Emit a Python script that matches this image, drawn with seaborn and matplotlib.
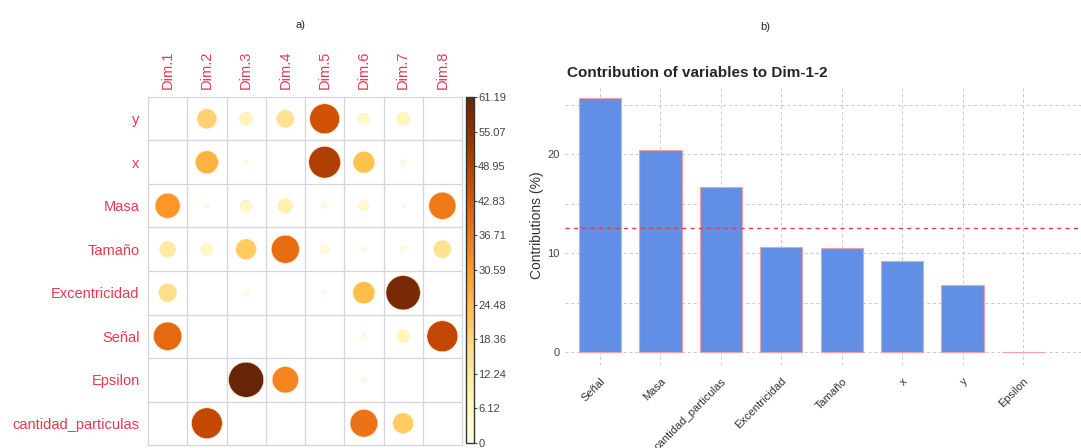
import numpy as np
import pandas as pd
import matplotlib
matplotlib.use("Agg")
import matplotlib.pyplot as plt
import matplotlib.colors as mcolors
import seaborn as sns

# ---- contributions of each variable to every PCA dimension (%) ----
dims = ["Dim.1", "Dim.2", "Dim.3", "Dim.4", "Dim.5", "Dim.6", "Dim.7", "Dim.8"]
variables = ["y", "x", "Masa", "Tamaño", "Excentricidad", "Señal", "Epsilon",
             "cantidad_particulas"]
contrib_y = [0.0, 19.2, 8.5, 15.5, 44.5, 6.0, 8.0, 0.0]
contrib_x = [0.0, 25.9, 1.0, 0.0, 50.0, 23.0, 1.2, 0.0]
contrib_masa = [31.1, 1.0, 6.5, 10.5, 1.2, 5.0, 0.3, 36.5]
contrib_tamano = [12.4, 7.0, 21.0, 39.0, 3.5, 1.0, 1.2, 15.5]
contrib_excentricidad = [16.4, 0.0, 1.2, 0.0, 0.6, 24.0, 58.5, 0.0]
contrib_senal = [39.8, 0.0, 0.0, 0.0, 0.0, 1.2, 8.0, 47.5]
contrib_epsilon = [0.0, 0.0, 61.19, 34.5, 0.0, 1.0, 0.0, 0.0]
contrib_cantidad = [0.0, 47.0, 0.0, 0.0, 0.0, 38.0, 21.0, 0.0]

colorbar_ticks = [0, 6.12, 12.24, 18.36, 24.48, 30.59, 36.71, 42.83, 48.95, 55.07, 61.19]

# ---- contributions to Dim-1-2 (%) ----
bar_vars = ["Señal", "Masa", "cantidad_particulas", "Excentricidad", "Tamaño",
            "x", "y", "Epsilon"]
bar_values = [25.7, 20.4, 16.7, 10.6, 10.5, 9.2, 6.8, 0.05]
expected_avg = 100 / 8

sns.set_style("white")
plt.rcParams["font.family"] = ["Liberation Sans", "DejaVu Sans"]

fig = plt.figure(figsize=(10.81, 4.48), dpi=100)
W, H = 1081, 448


def px_axes(x0, y0, x1, y1):
    return fig.add_axes([x0 / W, 1 - y1 / H, (x1 - x0) / W, (y1 - y0) / H])


# ================= a) contribution matrix =================
rows = [contrib_y, contrib_x, contrib_masa, contrib_tamano, contrib_excentricidad,
        contrib_senal, contrib_epsilon, contrib_cantidad]
records = []
for i, (var, vals) in enumerate(zip(variables, rows)):
    for j, (d, v) in enumerate(zip(dims, vals)):
        records.append({"variable": var, "dim": d, "row": i, "col": j, "value": v})
df = pd.DataFrame(records)

vmax = max(colorbar_ticks)
cmap = plt.get_cmap("YlOrBr")

axm = px_axes(148, 97, 462, 445)
sns.scatterplot(data=df, x="col", y="row", hue="value", size="value",
                palette=cmap, hue_norm=(0, vmax), size_norm=(0, vmax),
                sizes=(0, 640), linewidth=0.4, edgecolor="#FFE9C8",
                legend=False, ax=axm)
axm.set_xlim(-0.5, 7.5)
axm.set_ylim(7.5, -0.5)
for k in np.arange(0.5, 7.5, 1.0):
    axm.axvline(k, color="#D5D5DE", lw=0.9, zorder=0)
    axm.axhline(k, color="#D5D5DE", lw=0.9, zorder=0)
for s in axm.spines.values():
    s.set_color("#D5D5DE")
    s.set_linewidth(0.9)
axm.set_xticks(range(len(dims)))
axm.set_yticks(range(len(variables)))
axm.xaxis.tick_top()
axm.set_xticklabels(dims, rotation=90, color="#E8384F", fontsize=10.5)
axm.set_yticklabels(variables, color="#E8384F", fontsize=10.5)
axm.tick_params(length=0, pad=6)
axm.set_xlabel("")
axm.set_ylabel("")

axc = px_axes(466, 97, 474, 443)
cb = matplotlib.colorbar.ColorbarBase(axc, cmap=cmap,
                                      norm=mcolors.Normalize(0, vmax),
                                      ticks=colorbar_ticks)
cb.outline.set_edgecolor("#333333")
cb.outline.set_linewidth(1.0)
axc.set_yticklabels([f"{t:g}" for t in colorbar_ticks])
axc.tick_params(labelsize=8, length=2, pad=1, colors="#444444")

fig.text(300 / W, 1 - 25 / H, "a)", fontsize=8, ha="center", va="center")

# ================= b) contribution bar chart =================
bdf = pd.DataFrame({"variable": bar_vars, "contribution": bar_values})
axb = px_axes(565, 85, 1081, 365)
sns.barplot(data=bdf, x="variable", y="contribution", order=bar_vars,
            color="#628FE6", saturation=1, width=0.7,
            edgecolor="#F4A0A0", linewidth=0.8, ax=axb, zorder=2)
axb.set_xlim(-0.58, 7.96)
axb.set_ylim(-1.285, 26.985)
axb.set_yticks([0, 10, 20])
axb.set_yticks([5, 15, 25], minor=True)
axb.grid(True, which="both", axis="both", linestyle=(0, (3, 3)),
         color="#C8C8C8", linewidth=0.7, zorder=0)
axb.set_axisbelow(True)
for s in axb.spines.values():
    s.set_visible(False)
axb.axhline(expected_avg, color="#E8384F", linestyle=(0, (3, 3)), lw=1.0, zorder=3)
axb.set_xticks(range(len(bar_vars)))
axb.set_xticklabels(bar_vars, rotation=45, ha="right", rotation_mode="anchor",
                    fontsize=8, color="#333333")
axb.tick_params(axis="x", length=5, color="#999999", width=0.6, pad=3)
axb.tick_params(axis="y", which="major", length=3, color="#555555", width=0.8,
                labelsize=8, labelcolor="#444444", pad=1)
axb.tick_params(axis="y", which="minor", length=0)
axb.set_xlabel("")
axb.set_ylabel("Contributions (%)", fontsize=10, color="#333333", labelpad=2)
axb.set_title("Contribution of variables to Dim-1-2", loc="left",
              fontsize=11, fontweight="bold", x=0.004, pad=6)

fig.text(765 / W, 1 - 27 / H, "b)", fontsize=8, ha="center", va="center")

fig.savefig("out.png", dpi=100)
